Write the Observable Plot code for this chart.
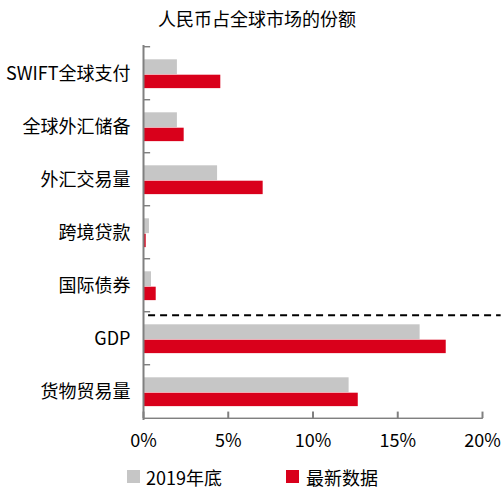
<!DOCTYPE html>
<html><head><meta charset="utf-8">
<script src="https://cdn.jsdelivr.net/npm/d3@7"></script>
<script src="https://cdn.jsdelivr.net/npm/@observablehq/plot@0.6"></script>
<style>
body{margin:0;background:#fff;font-family:"Noto Sans CJK SC",sans-serif;}
#wrap{position:relative;width:502px;height:495px;overflow:hidden;}
#title{position:absolute;top:5px;left:0;width:514px;text-align:center;font-size:18px;line-height:26px;color:#000;}
#chart{position:absolute;top:40px;left:0;}
.sw{position:absolute;top:470px;width:13px;height:13px;}
.lt{position:absolute;top:464px;font-size:18px;line-height:26px;color:#000;white-space:nowrap;}
</style></head>
<body><div id="wrap"><div id="title">人民币占全球市场的份额</div><div id="chart"></div>
<div id="legend"></div></div>
<script>
const categories = ["SWIFT全球支付","全球外汇储备","外汇交易量","跨境贷款","国际债券","GDP","货物贸易量"];
const seriesNames = ["2019年底","最新数据"];
const values2019 = [2.0, 2.0, 4.37, 0.35, 0.47, 16.32, 12.13];
const valuesLatest = [4.56, 2.4, 7.06, 0.16, 0.75, 17.86, 12.67];
const xTicks = [0, 5, 10, 15, 20];
const colors = ["#C6C6C6", "#D9001B"];
const dividerBefore = "GDP";

const rows = [];
categories.forEach((c, i) => {
  rows.push({category: c, series: seriesNames[0], value: values2019[i]});
  rows.push({category: c, series: seriesNames[1], value: valuesLatest[i]});
});

const band = 375 / 7;
const axisColor = "#808080";
const last = categories[categories.length - 1];

const chart = Plot.plot({
  width: 502, height: 415,
  marginTop: 5, marginBottom: 35, marginLeft: 143, marginRight: 20,
  x: {domain: [0, 20]},
  y: {domain: categories, padding: 0},
  style: {fontFamily: '"Noto Sans CJK SC", sans-serif', fontSize: "18px", color: "#000", background: "#fff", overflow: "visible"},
  marks: [
    Plot.barX(rows.filter(r => r.series === seriesNames[0]), {x: "value", y: "category", fill: colors[0], insetTop: 12.3, insetBottom: band - 27.7}),
    Plot.barX(rows.filter(r => r.series === seriesNames[1]), {x: "value", y: "category", fill: colors[1], insetTop: 27.7, insetBottom: band - 41.7}),
    Plot.ruleX([0], {stroke: axisColor, strokeWidth: 2}),
    Plot.barX(categories, {x1: 0, x2: 0.42, y: d => d, fill: axisColor, insetTop: -1, insetBottom: band - 1}),
    Plot.barX([last], {x1: 0, x2: 20.05, y: d => d, fill: axisColor, insetTop: band - 1, insetBottom: -1}),
    Plot.tickX(xTicks, {x: d => d, y: () => last, stroke: axisColor, strokeWidth: 2, insetTop: band - 7}),
    Plot.ruleY([dividerBefore], {y: d => d, x1: 0.3, x2: 21.1, dy: -band / 2 + 3, stroke: "#000", strokeWidth: 2, strokeDasharray: "7,5"}),
    Plot.axisX({ticks: xTicks, tickFormat: d => d + "%", tickSize: 0, tickPadding: 14, label: null, fontSize: "18px"}),
    Plot.axisY({tickSize: 0, tickPadding: 13, label: null, fontSize: "18px"})
  ]
});
document.getElementById("chart").appendChild(chart);

const legend = document.getElementById("legend");
const legendPos = [[127, 146], [286, 306]];
seriesNames.forEach((s, i) => {
  const sw = document.createElement("div");
  sw.className = "sw"; sw.style.left = legendPos[i][0] + "px"; sw.style.background = colors[i];
  const t = document.createElement("div");
  t.className = "lt"; t.style.left = legendPos[i][1] + "px"; t.textContent = s;
  legend.appendChild(sw); legend.appendChild(t);
});
</script>
</body></html>
